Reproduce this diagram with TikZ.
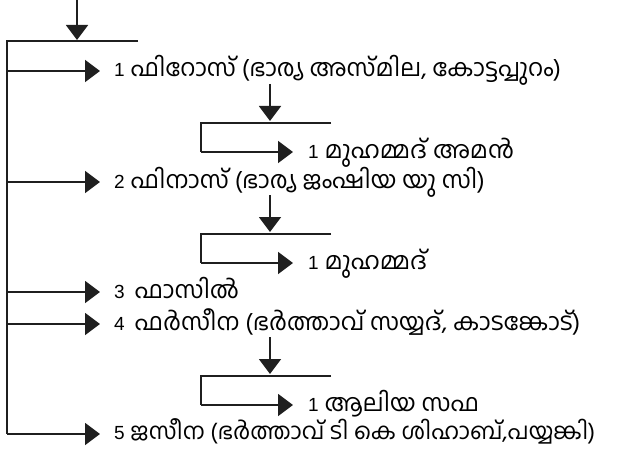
\documentclass[tikz,border=0pt]{standalone}
\usepackage{fontspec}
\newfontfamily\mlfont[Script=Malayalam]{Hind Kochi}
\newfontfamily\numfont{Liberation Sans}
\newcommand{\dg}[1]{{\numfont\fontsize{19}{20}\selectfont #1}}
\usetikzlibrary{arrows.meta}
\begin{document}
\begin{tikzpicture}[x=1pt,y=-1pt,
  ln/.style={draw=black!88, line width=1.6pt},
  arr/.style={ln,-{Triangle[length=15pt,width=22pt]}},
  lbl/.style={anchor=base west, inner sep=0pt, text height=14pt, text depth=5pt,
    font=\mlfont\fontsize{24}{26}\selectfont}]
\useasboundingbox (0,0) rectangle (635,452);
% trunk
\coordinate (in) at (77,0);
\coordinate (tee) at (77,40);
\coordinate (barL) at (7,41);
\coordinate (barR) at (138,41);
\coordinate (trunkEnd) at (7,434);
\draw[arr] (in) -- (tee);
\draw[ln] (barR) -- (barL) -- (trunkEnd);
% branch points on trunk and arrow tips
\foreach \n/\y in {1/71,2/182,3/292,4/324,5/434}{
  \coordinate (b\n) at (7,\y);
  \coordinate (t\n) at (100,\y);
}
\draw[arr] (b1) -- (t1);
\draw[arr] (b2) -- (t2);
\draw[arr] (b3) -- (t3);
\draw[arr] (b4) -- (t4);
\draw[arr] (trunkEnd) -- (t5);
% labels
\node[lbl] (n1) at (114,77) {\dg{1} ഫിറോസ് (ഭാര്യ അസ്മില, കോട്ടപ്പുറം)};
\node[lbl] (n2) at (114,188) {\dg{2} ഫിനാസ് (ഭാര്യ ജംഷിയ യു സി)};
\node[lbl] (n3) at (114,298) {\dg{3}\, ഫാസിൽ};
\node[lbl] (n4) at (114,330) {\dg{4}\, ഫർസീന (ഭർത്താവ് സയ്യദ്, കാടങ്കോട്)};
\node[lbl, font=\mlfont\fontsize{23}{25}\selectfont] (n5) at (114,439.5) {\dg{5} ജസീന (ഭർത്താവ് ടി കെ ശിഹാബ്,പയ്യങ്കി)};
% sub families
\foreach \k/\y in {1/71,2/182,4/324}{
  \coordinate (s\k top) at (270,\y+13);
  \coordinate (s\k tip) at (270,\y+50);
  \coordinate (s\k R) at (331,\y+52);
  \coordinate (s\k L) at (201,\y+52);
  \coordinate (s\k B) at (201,\y+81);
  \coordinate (s\k end) at (293,\y+81);
}
\draw[arr] (s1top) -- (s1tip);
\draw[ln] (s1R) -- (s1L) -- (s1B);
\draw[arr] (s1B) -- (s1end);
\draw[arr] (s2top) -- (s2tip);
\draw[ln] (s2R) -- (s2L) -- (s2B);
\draw[arr] (s2B) -- (s2end);
\draw[arr] (s4top) -- (s4tip);
\draw[ln] (s4R) -- (s4L) -- (s4B);
\draw[arr] (s4B) -- (s4end);
\node[lbl] (c1) at (308,158) {\dg{1} മുഹമ്മദ് അമൻ};
\node[lbl] (c2) at (308,269) {\dg{1} മുഹമ്മദ്};
\node[lbl] (c4) at (308,411) {\dg{1} ആലിയ സഫ};
\end{tikzpicture}
\end{document}
